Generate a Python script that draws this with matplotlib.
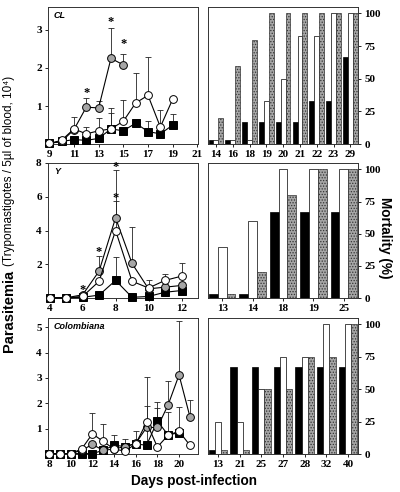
import numpy as np
import matplotlib
matplotlib.use("Agg")
import matplotlib.pyplot as plt

plt.rcParams["hatch.color"] = "#444444"
plt.rcParams["hatch.linewidth"] = 0.6

SERIF = "Liberation Serif"
SANS = "Liberation Sans"

# ---- parasitemia (left panels); nan = no error bar ----
cl_days = [9, 10, 11, 12, 13, 14, 15, 16, 17, 18, 19]
cl_black = [0.02, 0.07, 0.12, 0.1, 0.15, 0.4, 0.35, 0.55, 0.33, 0.27, 0.5]
cl_black_up = [np.nan, np.nan, np.nan, np.nan, np.nan, 0.82, np.nan, np.nan, 0.62, np.nan, 0.8]
cl_open = [0.02, 0.1, 0.4, 0.27, 0.35, 0.4, 0.6, 1.08, 1.28, 0.45, 1.18]
cl_open_up = [np.nan, np.nan, 0.7, 0.46, 0.68, 0.95, 1.15, 1.87, 2.28, 0.9, np.nan]
cl_gray_days = [9, 10, 11, 12, 13, 14, 15]
cl_gray = [0.02, 0.07, 0.38, 0.97, 0.95, 2.25, 2.08]
cl_gray_up = [np.nan, np.nan, np.nan, 1.2, 1.13, 3.05, 2.37]
cl_star_x = [12, 14, 15]
cl_star_y = [1.33, 3.2, 2.62]

y_days = [4, 5, 6, 7, 8, 9, 10, 11, 12]
y_black = [0.02, 0.02, 0.05, 0.18, 1.05, 0.05, 0.1, 0.35, 0.45]
y_black_up = [np.nan, np.nan, np.nan, np.nan, 2.45, np.nan, np.nan, np.nan, np.nan]
y_open = [0.02, 0.02, 0.1, 1.0, 4.0, 1.0, 0.6, 1.05, 1.3]
y_open_up = [np.nan, np.nan, np.nan, np.nan, 5.75, np.nan, 1.1, 1.45, 2.05]
y_gray = [0.02, 0.02, 0.2, 1.6, 4.75, 2.05, 0.55, 0.65, 0.75]
y_gray_up = [np.nan, np.nan, np.nan, 2.5, 7.6, 4.2, np.nan, np.nan, np.nan]
y_star_x = [6, 7, 8, 8]
y_star_y = [0.5, 2.75, 7.75, 5.9]

co_days = [8, 9, 10, 11, 12, 13, 14, 15, 16, 17, 18, 19, 20, 21]
co_black_days = [8, 9, 10, 11, 12, 13, 14, 15, 16, 17, 18, 19, 20]
co_black = [0.02, 0.02, 0.02, 0.02, 0.02, 0.15, 0.35, 0.3, 0.4, 0.35, 1.3, 0.75, 0.85]
co_black_up = [np.nan, np.nan, np.nan, np.nan, np.nan, np.nan, 0.75, 0.6, 0.9, 1.9, 2.05, 1.65, 1.85]
co_open = [0.02, 0.02, 0.02, 0.2, 0.8, 0.5, 0.2, 0.12, 0.4, 1.25, 0.28, 0.75, 0.9, 0.35]
co_open_up = [np.nan, np.nan, np.nan, np.nan, 1.62, 1.2, np.nan, np.nan, np.nan, 3.05, np.nan, np.nan, np.nan, np.nan]
co_gray = [0.02, 0.02, 0.02, 0.15, 0.38, 0.15, 0.2, 0.3, 0.42, 1.05, 1.05, 1.95, 3.12, 1.48]
co_gray_up = [np.nan, np.nan, np.nan, np.nan, np.nan, np.nan, np.nan, np.nan, np.nan, np.nan, 1.8, 2.88, 5.25, 2.12]

# ---- mortality (right panels) ----
cl_mort_days = ["14", "16", "18", "19", "20", "21", "22", "23", "29"]
cl_mort_black = [3, 3, 17, 17, 17, 17, 33, 33, 67]
cl_mort_white = [3, 3, 3, 33, 50, 83, 83, 100, 100]
cl_mort_gray = [20, 60, 80, 100, 100, 100, 100, 100, 100]

y_mort_days = ["13", "14", "18", "19", "25"]
y_mort_black = [3, 3, 67, 67, 67]
y_mort_white = [40, 60, 100, 100, 100]
y_mort_gray = [3, 20, 80, 100, 100]

co_mort_days = ["13", "21", "25", "27", "28", "32", "40"]
co_mort_black = [3, 67, 67, 67, 67, 67, 67]
co_mort_white = [25, 25, 50, 75, 75, 100, 100]
co_mort_gray = [3, 3, 50, 50, 75, 75, 100]

GRAY = "#a6a6a6"


def style_ticks(ax):
    for lab in ax.get_xticklabels() + ax.get_yticklabels():
        lab.set_fontfamily(SERIF)
        lab.set_fontweight("bold")
        lab.set_fontsize(8)
    ax.tick_params(direction="out", length=2.5, width=0.6, pad=2)
    for s in ax.spines.values():
        s.set_linewidth(0.7)
        s.set_color("#333333")


def series(ax, x, y, up, face):
    x = np.array(x, float)
    y = np.array(y, float)
    up = np.array(up, float)
    m = ~np.isnan(up)
    ax.errorbar(x[m], y[m], yerr=[np.zeros(m.sum()), up[m] - y[m]], fmt="none",
                ecolor="#222222", elinewidth=0.6, capsize=2, capthick=0.6, zorder=2)
    marker = "s" if face == "black" else "o"
    ax.plot(x, y, color="black", lw=0.8, marker=marker, ms=5.6 if marker == "o" else 5.2,
            mfc=face, mec="black", mew=0.7, zorder=3, clip_on=False)


def left_panel(rect, label, xt, xlim, yt, ylim, data, stars):
    ax = fig.add_axes(rect)
    for d in data:
        series(ax, *d)
    for sx, sy in zip(*stars):
        ax.text(sx, sy, "*", ha="center", va="center", fontsize=9, fontweight="bold",
                fontfamily=SERIF, zorder=4)
    ax.set_xlim(xlim)
    ax.set_ylim(ylim)
    ax.set_xticks(xt)
    ax.set_yticks(yt)
    ax.text(0.04, 0.97, label, transform=ax.transAxes, ha="left", va="top",
            fontsize=6.5, fontweight="bold", fontstyle="italic", fontfamily=SANS)
    style_ticks(ax)
    return ax


def right_panel(rect, days, black, white, gray, xlim):
    ax = fig.add_axes(rect)
    x = np.arange(len(days))
    w = 0.29
    ax.bar(x - w, black, w, color="black", edgecolor="black", lw=0.5)
    ax.bar(x, white, w, color="white", edgecolor="black", lw=0.5)
    ax.bar(x + w, gray, w, color=GRAY, edgecolor="#333333", lw=0.5, hatch="......")
    ax.set_xlim(xlim)
    ax.set_ylim(0, 105)
    ax.set_xticks(x)
    ax.set_xticklabels(days)
    ax.set_yticks([0, 25, 50, 75, 100])
    ax.yaxis.tick_right()
    style_ticks(ax)
    return ax


fig = plt.figure(figsize=(4, 4.92), dpi=100)

left_panel([0.12, 0.707, 0.375, 0.279], "CL", [9, 11, 13, 15, 17, 19, 21], (8.9, 21.05),
           [1, 2, 3], (0, 3.6),
           [(cl_days, cl_black, cl_black_up, "black"),
            (cl_gray_days, cl_gray, cl_gray_up, GRAY),
            (cl_days, cl_open, cl_open_up, "white")],
           (cl_star_x, cl_star_y))

left_panel([0.12, 0.394, 0.375, 0.275], "Y", [4, 6, 8, 10, 12], (3.9, 13.0),
           [2, 4, 6, 8], (0, 8.0),
           [(y_days, y_black, y_black_up, "black"),
            (y_days, y_gray, y_gray_up, GRAY),
            (y_days, y_open, y_open_up, "white")],
           (y_star_x, y_star_y))

left_panel([0.12, 0.077, 0.375, 0.277], "Colombiana", [8, 10, 12, 14, 16, 18, 20], (7.9, 21.75),
           [1, 2, 3, 4, 5], (0, 5.37),
           [(co_black_days, co_black, co_black_up, "black"),
            (co_days, co_gray, co_gray_up, GRAY),
            (co_days, co_open, co_open_up, "white")],
           ([], []))

right_panel([0.52, 0.707, 0.375, 0.279], cl_mort_days, cl_mort_black, cl_mort_white,
            cl_mort_gray, (-0.47, 8.45))
right_panel([0.52, 0.394, 0.375, 0.275], y_mort_days, y_mort_black, y_mort_white,
            y_mort_gray, (-0.47, 4.47))
right_panel([0.52, 0.077, 0.375, 0.277], co_mort_days, co_mort_black, co_mort_white,
            co_mort_gray, (-0.46, 6.46))

fig.text(0.022, 1 - 270 / 492, "Parasitemia", rotation=90, ha="center", va="top",
         fontsize=10.5, fontweight="bold", fontfamily=SANS)
fig.text(0.022, 1 - 266 / 492, "(Trypomastigotes / 5\u00b5l of blood, 10\u2074)", rotation=90,
         ha="center", va="bottom", fontsize=8.5, fontfamily=SANS)
fig.text(0.962, 1 - 238 / 492, "Mortality (%)", rotation=270, ha="center", va="center",
         fontsize=9.8, fontweight="bold", fontfamily=SANS)
fig.text(0.486, 1 - 481 / 492, "Days post-infection", ha="center", va="center",
         fontsize=9.8, fontweight="bold", fontfamily=SANS)

fig.savefig("out.png", dpi=100)
